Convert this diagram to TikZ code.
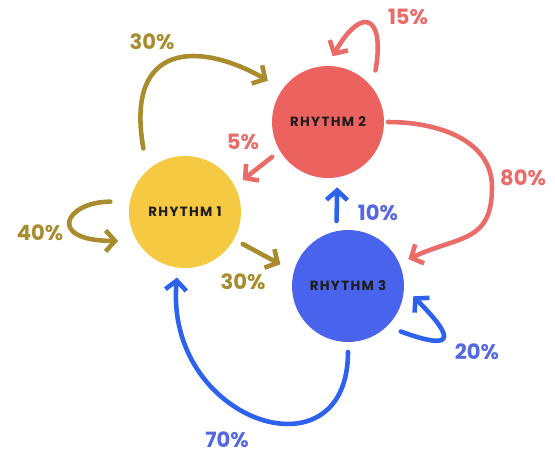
\documentclass[tikz,border=0pt]{standalone}
\usepackage{fontspec}
\setmainfont{Poppins}
\usepackage{tikz}
\usetikzlibrary{arrows.meta}
\definecolor{rhyyellow}{RGB}{245,201, 66}
\definecolor{rhyred}   {RGB}{236, 98, 94}
\definecolor{rhyblue}  {RGB}{ 74, 99,236}
\definecolor{arrolive} {RGB}{168,140, 46}
\definecolor{arrred}   {RGB}{234,108,104}
\definecolor{arrblue}  {RGB}{ 45, 98,238}
\definecolor{lblblue}  {RGB}{ 84,104,228}
\definecolor{txtdark}  {RGB}{ 30, 28, 28}

\begin{document}
\begin{tikzpicture}[
  state/.style={circle,minimum size=2.24cm,inner sep=0pt,outer sep=0.2cm,text=txtdark,
                font=\fontsize{7.6}{9}\selectfont\bfseries\addfontfeature{LetterSpace=10}},
  arr/.style={-{Straight Barb[length=0.19cm,width=0.42cm]},line width=2.6pt,line cap=round},
  pct/.style={font=\fontsize{12}{14}\selectfont\bfseries},
]
\useasboundingbox (0,0) rectangle (11.1,-9.08);

%% ── the three rhythms ───────────────────────────────────────────────
\node[state,fill=rhyyellow] (r1) at (3.70,-4.24) {RHYTHM 1};
\node[state,fill=rhyred]    (r2) at (6.56,-2.44) {RHYTHM 2};
\node[state,fill=rhyblue]   (r3) at (6.96,-5.72) {RHYTHM 3};
\coordinate (b80) at (9.84,-3.74);

%% ── from rhythm 1 ───────────────────────────────────────────────────
\draw[arr,arrolive,shorten <=0.22cm,shorten >=0.14cm] (r1.127)
  to[out=100,in=150,out distance=2.4cm,in distance=1.7cm] (r2.145);
\draw[arr,arrolive,shorten <=0.19cm,shorten >=0.15cm] (r1.171)
  to[out=180,in=180,out distance=1.1cm,in distance=1.6cm] (r1.206);
\draw[arr,arrolive,shorten >=0.1cm] (r1.-29) -- (r3.163);
\node[pct,arrolive] (p12) at (3.04,-0.84) {30\%};
\node[pct,arrolive] (p11) at (0.80,-4.66) {40\%};
\node[pct,arrolive] (p13) at (4.86,-5.64) {30\%};

%% ── from rhythm 2 ───────────────────────────────────────────────────
\draw[arr,arrred] (r2.212) -- (r1.29);
\draw[arr,arrred,shorten <=0.1cm] (r2.45)
  to[out=80,in=60,out distance=1.2cm,in distance=1.2cm] (r2.86);
\draw[arr,arrred,shorten <=-0.12cm] (r2.east)
  to[out=0,in=90] (b80) to[out=-90,in=25,looseness=1.3] (r3.24);
\node[pct,arrred] (p21) at (4.86,-2.84) {5\%};
\node[pct,arrred] (p22) at (8.16,-0.34) {15\%};
\node[pct,arrred] (p23) at (10.46,-3.56) {80\%};

%% ── from rhythm 3 ───────────────────────────────────────────────────
\draw[arr,arrblue] (r3.100) -- (r2.-82);
\draw[arr,arrblue,shorten <=0.08cm] (r3.-42)
  to[out=-20,in=-45,out distance=1.16cm,in distance=1.28cm] (r3.-9);
\draw[arr,arrblue] (r3.south)
  to[out=-90,in=-95,out distance=2.6cm,in distance=2.9cm] (r1.263);
\node[pct,lblblue] (p32) at (7.56,-4.26) {10\%};
\node[pct,lblblue] (p33) at (9.54,-7.04) {20\%};
\node[pct,lblblue] (p31) at (4.54,-8.80) {70\%};

\end{tikzpicture}
\end{document}
